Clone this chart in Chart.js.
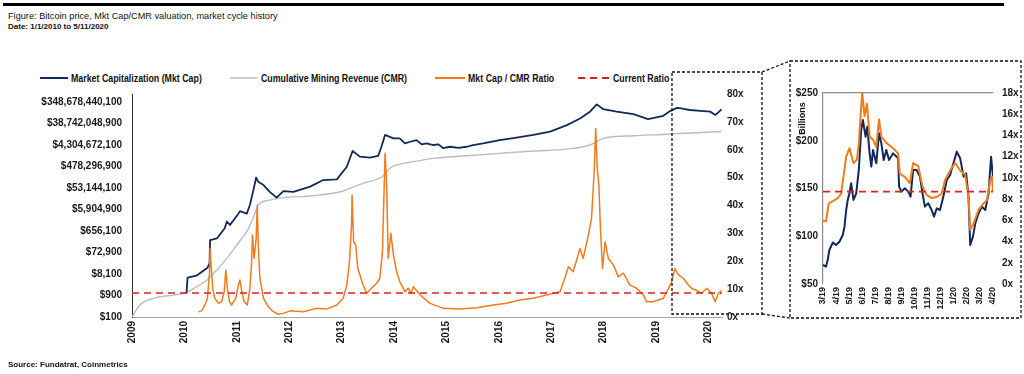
<!DOCTYPE html>
<html>
<head>
<meta charset="utf-8">
<script src="https://cdn.jsdelivr.net/npm/chart.js@4.4.0/dist/chart.umd.min.js"></script>
<style>
  html, body { margin: 0; padding: 0; background: #fff; }
  body { width: 1024px; height: 374px; position: relative; overflow: hidden;
         font-family: "Liberation Sans", Arial, sans-serif; color: #111; }
  .abs { position: absolute; white-space: nowrap; }
  #topRule { left: 3px; top: 3px; width: 1001px; height: 3px; background: #000; }
  #title  { left: 8px; top: 10px; font-size: 9.2px; line-height: 12px; }
  #date   { left: 8px; top: 22px; font-size: 8px; font-weight: bold; line-height: 10px; }
  #source { left: 8px; top: 360px; font-size: 8px; font-weight: bold; line-height: 10px; }
  .leg    { top: 71px; font-weight: bold; font-size: 10.5px; line-height: 14px;
            transform: scaleX(0.84); transform-origin: 0 50%; }
  #billions { left: 784px; top: 113px; width: 36px; font-size: 9px; font-weight: bold;
              line-height: 11px; text-align: center; transform: rotate(-90deg); }
  #mainChart  { position: absolute; left: 0; top: 78px; }
  #insetChart { position: absolute; left: 792px; top: 64px; }
  #overlay { position: absolute; left: 0; top: 0; pointer-events: none; }
</style>
</head>
<body>
<div id="topRule" class="abs"></div>
<div id="title" class="abs">Figure: Bitcoin price, Mkt Cap/CMR valuation, market cycle history</div>
<div id="date" class="abs">Date: 1/1/2010 to 5/11/2020</div>

<div class="abs leg" style="left:71px">Market Capitalization (Mkt Cap)</div>
<div class="abs leg" style="left:261px">Cumulative Mining Revenue (CMR)</div>
<div class="abs leg" style="left:468px">Mkt Cap / CMR Ratio</div>
<div class="abs leg" style="left:613px">Current Ratio</div>

<canvas id="mainChart" width="770" height="269"></canvas>
<canvas id="insetChart" width="228" height="252"></canvas>
<div id="billions" class="abs">Billions</div>

<svg id="overlay" width="1024" height="374">
  <!-- legend samples -->
  <line x1="40" y1="78" x2="68" y2="78" stroke="#13295b" stroke-width="2"/>
  <line x1="230" y1="78" x2="257" y2="78" stroke="#bdbdbd" stroke-width="1.5"/>
  <line x1="435" y1="78" x2="465" y2="78" stroke="#f07c1c" stroke-width="2"/>
  <line x1="578" y1="78" x2="612" y2="78" stroke="#e0201b" stroke-width="2" stroke-dasharray="7 5"/>
  <!-- zoom boxes -->
  <g fill="none" stroke="#111" stroke-width="1.3" stroke-dasharray="3 2">
    <rect x="672" y="72" width="90" height="242"/>
    <rect x="790" y="61" width="231" height="257"/>
    <line x1="762" y1="72" x2="790" y2="61"/>
    <line x1="762" y1="314" x2="790" y2="318"/>
  </g>
</svg>

<div id="source" class="abs">Source: Fundatrat, Coinmetrics</div>

<script>
// ── Main chart data (x = position in years on the axis) ──
const capTicks = [100, 900, 8100, 72900, 656100, 5904900, 53144100, 478296900,
                  4304672100, 38742048900, 348678440100];

const mcapYears = [2010.04, 2010.06, 2010.23, 2010.44, 2010.48, 2010.49, 2010.62, 2010.77, 2010.81, 2010.87,
  2011.03, 2011.06, 2011.19, 2011.25, 2011.31, 2011.37, 2011.41, 2011.51, 2011.63, 2011.76, 2011.89,
  2012.08, 2012.40, 2012.65, 2012.91, 2013.10, 2013.21, 2013.35, 2013.54, 2013.70, 2013.76, 2013.83, 2013.99,
  2014.11, 2014.21, 2014.31, 2014.43, 2014.53, 2014.62, 2014.75, 2014.85, 2014.94,
  2015.07, 2015.23, 2015.39, 2015.51, 2015.70, 2016.02, 2016.34, 2016.66, 2016.98,
  2017.30, 2017.55, 2017.74, 2017.87, 2017.99, 2018.25, 2018.57, 2018.85,
  2019.14, 2019.27, 2019.40, 2019.46, 2019.55, 2019.65, 2019.85, 2020.04, 2020.13, 2020.19, 2020.25];
const mcapValues = [1100, 5580, 6800, 15300, 24300, 260000, 306000, 873000, 1730000, 1210000,
  3850000, 4990000, 3850000, 9300000, 36000000, 155000000, 100000000, 72000000, 36000000, 19900000, 39000000,
  36000000, 61000000, 120000000, 128000000, 468000000, 2320000000, 1310000000, 1180000000, 1430000000, 3600000000, 12100000000, 8500000000,
  8500000000, 5100000000, 6000000000, 7100000000, 4600000000, 5100000000, 4300000000, 4600000000, 3100000000,
  3600000000, 3240000000, 3600000000, 4300000000, 5100000000, 7100000000, 9100000000, 12100000000, 16800000000,
  33000000000, 65000000000, 130000000000, 274000000000, 169000000000, 130000000000, 100000000000, 60000000000,
  85000000000, 138000000000, 192000000000, 185000000000, 170000000000, 154000000000, 140000000000, 130000000000, 93000000000, 120000000000, 165000000000];

const cmrYears = [2009.00, 2009.15, 2009.41, 2009.79, 2010.04, 2010.23, 2010.43, 2010.62, 2010.81,
  2011.00, 2011.19, 2011.31, 2011.38, 2011.44, 2011.63, 2011.89, 2012.46, 2013.03, 2013.16, 2013.41,
  2013.80, 2013.92, 2014.05, 2014.31, 2014.75, 2015.39, 2016.02, 2016.66, 2017.30, 2017.74, 2017.99,
  2018.57, 2019.20, 2019.65, 2020.25];
const cmrValues = [100, 342, 676, 940, 1230, 2200, 4400, 12300, 40000,
  157000, 614000, 2400000, 6700000, 11200000, 15500000, 19900000, 24000000, 39000000, 52000000, 86000000,
  186000000, 400000000, 558000000, 740000000, 1100000000, 1430000000, 1830000000, 2320000000, 2840000000, 4300000000, 8500000000,
  11100000000, 12900000000, 14700000000, 17200000000];

const ratioYears = [2010.27, 2010.33, 2010.39, 2010.44, 2010.48, 2010.49, 2010.51, 2010.54, 2010.58, 2010.65,
  2010.71, 2010.76, 2010.79, 2010.82, 2010.86, 2010.90, 2010.98, 2011.03, 2011.06, 2011.09, 2011.14, 2011.20,
  2011.25, 2011.28, 2011.30, 2011.33, 2011.37, 2011.39, 2011.41, 2011.44, 2011.51, 2011.60, 2011.70, 2011.79,
  2011.89, 2012.02, 2012.27, 2012.52, 2012.72, 2012.91, 2013.03, 2013.10, 2013.15, 2013.19, 2013.20, 2013.23,
  2013.27, 2013.31, 2013.35, 2013.41, 2013.48, 2013.57, 2013.67, 2013.73, 2013.78, 2013.81, 2013.83, 2013.86,
  2013.89, 2013.94, 2013.99, 2014.05, 2014.11, 2014.21, 2014.27, 2014.33, 2014.37, 2014.50, 2014.69, 2014.94,
  2015.26, 2015.58, 2015.90, 2016.15, 2016.40, 2016.66, 2016.91, 2017.17, 2017.26, 2017.33, 2017.42, 2017.55,
  2017.61, 2017.71, 2017.77, 2017.82, 2017.85, 2017.88, 2017.91, 2017.94, 2017.98, 2018.03, 2018.09, 2018.19,
  2018.28, 2018.38, 2018.50, 2018.63, 2018.76, 2018.82, 2018.95, 2019.14, 2019.24, 2019.30, 2019.36, 2019.43,
  2019.52, 2019.62, 2019.68, 2019.78, 2019.87, 2019.97, 2020.06, 2020.13, 2020.19, 2020.25];
const ratioValues = [1.9, 2.2, 4.3, 6.7, 16.2, 24.6, 18.6, 10.3, 6.7, 4.9,
  5.5, 9.1, 16.8, 10.3, 5.5, 4.3, 6.7, 11.5, 13.3, 9.7, 5.5, 4.3,
  10.3, 18.6, 29.4, 21.0, 28.2, 40.1, 25.8, 13.9, 6.7, 3.7, 1.9, 1.0,
  1.3, 2.2, 1.9, 3.1, 2.9, 4.3, 6.7, 11.5, 19.8, 33.0, 43.7, 27.0,
  25.8, 17.4, 15.1, 11.5, 8.5, 10.3, 12.1, 13.9, 23.4, 44.9, 58.7, 47.3,
  21.0, 30.0, 22.2, 16.2, 12.7, 9.1, 10.3, 8.6, 10.9, 7.9, 4.9, 3.1,
  2.9, 3.3, 4.3, 4.9, 6.1, 6.7, 7.9, 9.1, 13.9, 18.0, 16.2, 24.6,
  21.0, 29.4, 35.4, 52.1, 67.6, 53.3, 47.3, 31.8, 17.4, 27.0, 21.0, 18.6,
  14.4, 15.7, 11.5, 10.3, 7.9, 5.5, 5.5, 6.7, 10.3, 12.7, 17.4, 15.1,
  13.9, 11.5, 10.3, 9.5, 8.5, 10.3, 8.5, 5.5, 8.5, 9.5];

const currentRatio = 8.6;

// ── Inset data (x = months since 3/19) ──
const insetMonthLabels = ['3/19','4/19','5/19','6/19','7/19','8/19','9/19','10/19','11/19','12/19','1/20','2/20','3/20','4/20'];

const insetCapMonths = [0, 0.23, 0.36, 0.49, 0.75, 1.0, 1.26, 1.52, 1.65, 1.78, 1.90, 2.03, 2.16, 2.34, 2.55,
  2.75, 2.93, 3.06, 3.27, 3.40, 3.58, 3.71, 3.84, 4.09, 4.30, 4.48, 4.66, 4.86, 5.07, 5.38, 5.77, 5.84,
  6.02, 6.28, 6.54, 6.72, 6.92, 7.18, 7.44, 7.64, 7.82, 8.08, 8.34, 8.52, 8.73, 8.98, 9.24, 9.50, 9.76,
  10.01, 10.27, 10.53, 10.79, 10.99, 11.17, 11.30, 11.51, 11.69, 11.94, 12.20, 12.46, 12.71, 12.90, 13.05];
const insetCapValues = [69.9, 68.2, 75.1, 85.6, 93.3, 90.8, 94.3, 101.3, 110, 127.5, 138, 145, 155.4, 138, 145,
  169.4, 211.3, 221.7, 204.3, 214.7, 186.8, 172.9, 190.3, 176.4, 207.8, 197.3, 179.8, 190.3, 179.8, 186.8, 181.6, 151.9,
  146.7, 150.2, 146.7, 141.5, 169.4, 169.4, 162.4, 144.9, 131, 134.5, 127.5, 120.5, 129.2, 127.5, 141.5, 158.9, 164.1,
  176.4, 188.6, 181.6, 162.4, 165.9, 141.5, 90.8, 99.6, 113.5, 124, 131, 127.5, 144.9, 183.3, 162.4];

const insetRatioMonths = [0, 0.23, 0.44, 0.75, 1.13, 1.39, 1.57, 1.78, 2.03, 2.34, 2.60, 2.75, 2.93, 3.01,
  3.19, 3.37, 3.58, 3.84, 4.09, 4.30, 4.48, 4.86, 5.38, 5.77, 5.89, 6.28, 6.67, 6.92, 7.31, 7.64, 7.95,
  8.34, 8.73, 9.11, 9.37, 9.76, 10.14, 10.53, 10.91, 11.17, 11.30, 11.56, 11.94, 12.33, 12.58, 12.84, 12.97, 13.05];
const insetRatioValues = [6.0, 5.9, 7.6, 7.8, 8.1, 8.5, 10.1, 12.0, 12.8, 11.4, 11.7, 13.3, 16.7, 18.0,
  15.8, 17.0, 13.9, 13.6, 12.9, 15.5, 13.9, 13.3, 12.8, 12.3, 10.4, 10.1, 9.5, 11.4, 11.1, 9.2, 8.4,
  8.1, 8.2, 8.5, 9.8, 10.7, 11.4, 10.7, 10.3, 8.2, 5.1, 5.7, 7.0, 7.6, 7.9, 9.8, 10.1, 8.7];

const insetCurrentRatio = 8.7;

// ── Styles ──
const NAVY = '#13295b', GREY = '#bdbdbd', ORANGE = '#f07c1c', RED = '#e0201b';
const tickFont = { family: '"Liberation Sans", Arial, sans-serif', size: 10, weight: 'bold' };
const pts = (xs, ys) => xs.map((x, i) => ({ x: x, y: ys[i] }));

Chart.defaults.font.family = '"Liberation Sans", Arial, sans-serif';
Chart.defaults.color = '#1a1a1a';

// ── Main chart ──────────────────────────────
const xMin = 2009, xMax = 2020.26;
new Chart(document.getElementById('mainChart'), {
  type: 'line',
  data: {
    datasets: [
      { label: 'Current Ratio', data: pts([xMin, xMax], [currentRatio, currentRatio]), yAxisID: 'y1',
        borderColor: RED, borderWidth: 1.6, borderDash: [7, 5] },
      { label: 'Mkt Cap / CMR Ratio', data: pts(ratioYears, ratioValues), yAxisID: 'y1',
        borderColor: ORANGE, borderWidth: 1.5 },
      { label: 'Market Capitalization (Mkt Cap)', data: pts(mcapYears, mcapValues), yAxisID: 'y',
        borderColor: NAVY, borderWidth: 1.8 },
      { label: 'Cumulative Mining Revenue (CMR)', data: pts(cmrYears, cmrValues), yAxisID: 'y',
        borderColor: GREY, borderWidth: 1.4, cubicInterpolationMode: 'monotone' }
    ]
  },
  options: {
    responsive: false,
    animation: false,
    layout: { padding: 0 },
    elements: { point: { radius: 0 }, line: { borderJoinStyle: 'round' } },
    plugins: { legend: { display: false }, tooltip: { enabled: false } },
    scales: {
      x: {
        type: 'linear', min: xMin, max: xMax,
        grid: { display: false, drawTicks: false },
        border: { color: '#a6a6a6' },
        ticks: { stepSize: 1, autoSkip: false, includeBounds: false, minRotation: 90, maxRotation: 90,
                 padding: 4, font: tickFont, callback: v => String(v) },
        afterFit: s => { s.height = 30; }
      },
      y: {
        type: 'logarithmic', position: 'left', min: 100, max: 790000000000,
        grid: { display: false, drawTicks: false },
        border: { color: '#333' },
        afterBuildTicks: s => { s.ticks = capTicks.map(v => ({ value: v })); },
        ticks: { padding: 10, font: tickFont, callback: v => '$' + Number(v).toLocaleString('en-US') },
        afterFit: s => { s.width = 132; }
      },
      y1: {
        type: 'linear', position: 'right', min: 0, max: 80,
        grid: { display: false, drawTicks: false },
        border: { display: false },
        ticks: { stepSize: 10, padding: 5, font: tickFont, callback: v => v + 'x' },
        afterFit: s => { s.width = 48; }
      }
    }
  }
});

// ── Inset chart ─────────────────────────────
new Chart(document.getElementById('insetChart'), {
  type: 'line',
  data: {
    datasets: [
      { label: 'Current Ratio', data: pts([0, 13.05], [insetCurrentRatio, insetCurrentRatio]), yAxisID: 'y1',
        borderColor: RED, borderWidth: 1.8, borderDash: [7, 5] },
      { label: 'Mkt Cap / CMR Ratio', data: pts(insetRatioMonths, insetRatioValues), yAxisID: 'y1',
        borderColor: ORANGE, borderWidth: 2 },
      { label: 'Market Capitalization (Mkt Cap)', data: pts(insetCapMonths, insetCapValues), yAxisID: 'y',
        borderColor: NAVY, borderWidth: 2 }
    ]
  },
  options: {
    responsive: false,
    animation: false,
    layout: { padding: { top: 29, left: 0, right: 0, bottom: 0 } },
    elements: { point: { radius: 0 }, line: { borderJoinStyle: 'round' } },
    plugins: { legend: { display: false }, tooltip: { enabled: false } },
    scales: {
      x: {
        type: 'linear', min: 0, max: 13.05,
        grid: { display: false, drawTicks: false },
        border: { display: false },
        ticks: { stepSize: 1, autoSkip: false, includeBounds: false, minRotation: 90, maxRotation: 90,
                 padding: 3, font: { ...tickFont, size: 9 }, callback: v => insetMonthLabels[v] ?? '' },
        afterFit: s => { s.height = 32; }
      },
      y: {
        position: 'left', min: 50, max: 250,
        grid: { drawTicks: false, lineWidth: 1.2,
                color: c => (c.tick && c.tick.value === 250) ? '#8c8c8c' : 'rgba(0,0,0,0)' },
        border: { color: '#8c8c8c', width: 1.2 },
        ticks: { stepSize: 50, padding: 5, font: tickFont, callback: v => '$' + v },
        afterFit: s => { s.width = 31; }
      },
      y1: {
        position: 'right', min: 0, max: 18,
        grid: { display: false, drawTicks: false },
        border: { display: false },
        ticks: { stepSize: 2, padding: 9, font: tickFont, callback: v => v + 'x' },
        afterFit: s => { s.width = 27; }
      }
    }
  }
});
</script>
</body>
</html>
